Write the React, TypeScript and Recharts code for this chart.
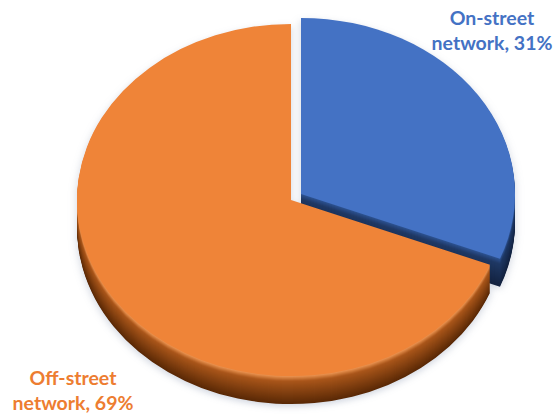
import { Cell, Pie, PieChart } from 'recharts'

const SLICES = ['On-street network', 'Off-street network']
const SHARES = [31, 69]

const TOP_COLORS = ['#4472C4', '#EF8438']
const LABEL_COLORS = ['#4472C4', '#ED7D31']

const K = 0.823 // vertical squash for the tilted look
const CX = 291
const CY = 240
const RADIUS = 214
const BLUE_SHIFT_X = 10
const BLUE_SHIFT_Y = -6
const TOP_SHIFT = 40
const DEPTH = 28

const data = SLICES.map((name, i) => ({ name, value: SHARES[i] }))

// blend two hex colours, t=0 -> a, t=1 -> b
function mix(a: string, b: string, t: number) {
  const pa = [1, 3, 5].map((o) => parseInt(a.slice(o, o + 2), 16))
  const pb = [1, 3, 5].map((o) => parseInt(b.slice(o, o + 2), 16))
  return (
    '#' +
    pa
      .map((v, i) => Math.round(v + (pb[i] - v) * t).toString(16).padStart(2, '0'))
      .join('')
  )
}

// wall shading, from the bottom edge (dark) up to just under the top face
function wallColor(dark: string, mid: string, light: string, depth: number) {
  const t = 1 - depth / DEPTH
  if (t < 0.8) return mix(dark, mid, t / 0.8)
  return mix(mid, light, (t - 0.8) / 0.2)
}

const wallDepths: number[] = []
for (let d = DEPTH; d >= 1; d--) wallDepths.push(d)

function layer(key: string, cx: number, cy: number, fills: string[]) {
  return (
    <Pie
      key={key}
      data={data}
      dataKey="value"
      nameKey="name"
      cx={cx}
      cy={cy}
      outerRadius={RADIUS}
      startAngle={90}
      endAngle={-270}
      stroke="none"
      isAnimationActive={false}
    >
      {fills.map((fill, i) => (
        <Cell key={i} fill={fill} />
      ))}
    </Pie>
  )
}

const labelStyle = {
  position: 'absolute' as const,
  width: 140,
  textAlign: 'center' as const,
  fontFamily: 'Lato, "Open Sans", sans-serif',
  fontWeight: 700,
  fontSize: 19.5,
  lineHeight: '25px',
}

export default function App() {
  const blueCx = CX + BLUE_SHIFT_X
  const blueCy = CY + BLUE_SHIFT_Y / K

  return (
    <div
      style={{
        position: 'absolute',
        left: 0,
        top: 0,
        width: 558,
        height: 415,
        overflow: 'hidden',
        background: '#fff',
      }}
    >
      <div
        style={{
          position: 'absolute',
          left: 0,
          top: -TOP_SHIFT,
          transform: `scaleY(${K})`,
          transformOrigin: `0px ${CY}px`,
          filter: 'drop-shadow(0px 3px 4px rgba(70, 90, 130, 0.25))',
        }}
      >
        <PieChart width={558} height={540} margin={{ top: 0, right: 0, bottom: 0, left: 0 }}>
          {wallDepths.map((d) =>
            layer(`bw${d}`, blueCx, blueCy + d / K, [
              wallColor('#13223f', '#1f3864', '#2f5596', d),
              'none',
            ])
          )}
          {layer('btop', blueCx, blueCy, [TOP_COLORS[0], 'none'])}
          {wallDepths.map((d) =>
            layer(`ow${d}`, CX, CY + d / K, [
              'none',
              wallColor('#5a2906', '#a9561a', '#f39a57', d),
            ])
          )}
          {layer('otop', CX, CY, ['none', TOP_COLORS[1]])}
        </PieChart>
      </div>
      <div style={{ ...labelStyle, left: 422, top: 5, color: LABEL_COLORS[0] }}>
        On-street
        <br />
        network, {SHARES[0]}%
      </div>
      <div style={{ ...labelStyle, left: 3, top: 365, color: LABEL_COLORS[1] }}>
        Off-street
        <br />
        network, {SHARES[1]}%
      </div>
    </div>
  )
}
